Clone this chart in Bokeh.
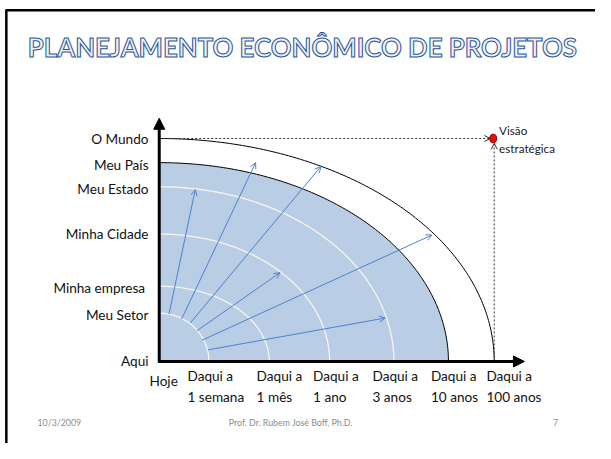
import numpy as np
from bokeh.plotting import figure
from bokeh.models import Range1d, Arrow, NormalHead, OpenHead, ColumnDataSource
from bokeh.core.properties import value
from bokeh.embed import file_html
from bokeh.resources import INLINE

# ---------------- data ----------------
title = "PLANEJAMENTO ECONÔMICO DE PROJETOS"
space_levels = ["Aqui", "Meu Setor", "Minha  empresa", "Minha Cidade", "Meu Estado", "Meu País", "O Mundo"]
space_reach = [0, 50, 78, 132, 181, 206, 231]
time_levels = ["Hoje", "Daqui a\n1 semana", "Daqui a\n1 mês", "Daqui a\n1 ano",
               "Daqui a\n3 anos", "Daqui a\n10 anos", "Daqui a\n100 anos"]
time_reach = [0, 51, 113, 175, 241, 297, 344]

arrow_x0 = [10, 23, 32, 39, 44, 50]
arrow_y0 = [49, 44, 40, 32, 22, 12]
arrow_x1 = [37, 99, 166, 124, 280, 232]
arrow_y1 = [178, 206, 202, 92, 131, 45]

vision_label = "Visão\nestratégica"
footer_date = "10/3/2009"
footer_author = "Prof. Dr. Rubem José Boff, Ph.D."
footer_page = "7"

# ---------------- layout ----------------
W, H = 595, 443
S = W / 611.0
def fs(px):
    return f"{px * S:.1f}px"

FONT = value("Lato")
p = figure(width=W, height=H, output_backend="svg", toolbar_location=None,
           x_range=Range1d(-163, 448), y_range=Range1d(-85, 374),
           x_axis_type=None, y_axis_type=None, min_border=0)
p.grid.visible = False
p.outline_line_color = None
p.background_fill_color = "white"

def quarter(a, b, n=120):
    t = np.linspace(0, np.pi / 2, n)
    return a * np.cos(t), b * np.sin(t)

# outer (O Mundo) arc
ox, oy = quarter(time_reach[6], space_reach[6])
p.line(ox, oy, line_color="black", line_width=1)

# filled region up to Meu País
fx, fy = quarter(time_reach[5], space_reach[5])
p.patch(np.concatenate([[0], fx, [0]]), np.concatenate([[0], fy, [0]]),
        fill_color="#b9cde5", line_color=None)
p.line(fx, fy, line_color="black", line_width=1)

# inner light rings
for k in range(1, 5):
    ix, iy = quarter(time_reach[k], space_reach[k])
    p.line(ix, iy, line_color="#f7f5ec", line_width=1.3)

# blue arrows
asrc = ColumnDataSource(dict(x0=arrow_x0, y0=arrow_y0, x1=arrow_x1, y1=arrow_y1))
p.add_layout(Arrow(x_start="x0", y_start="y0", x_end="x1", y_end="y1", source=asrc,
                   line_color="#4f81cf", line_width=1,
                   end=OpenHead(size=6, line_color="#4f81cf", line_width=1)))

# dashed guides to the strategic vision point
p.add_layout(Arrow(x_start=0, y_start=space_reach[6], x_end=time_reach[6] - 4, y_end=space_reach[6],
                   line_color="#333333", line_width=1, line_dash="2 2",
                   end=OpenHead(size=6, line_color="#333333", line_width=1)))
p.add_layout(Arrow(x_start=time_reach[6], y_start=0, x_end=time_reach[6], y_end=space_reach[6] - 5,
                   line_color="#333333", line_width=1, line_dash="2 2",
                   end=OpenHead(size=6, line_color="#333333", line_width=1)))
p.ellipse(x=[time_reach[6] - 1], y=[space_reach[6]], width=7, height=9,
          fill_color="#ff0000", line_color="#8b0000", line_width=1)
p.text(x=[time_reach[6] + 5], y=[space_reach[6] + 16], text=[vision_label],
       text_font=FONT, text_font_size=fs(12), text_color="#222222",
       text_align="left", text_baseline="top", text_line_height=1.3)

# main axes
p.add_layout(Arrow(x_start=0, y_start=-1, x_end=0, y_end=252, line_color="black", line_width=3,
                   end=NormalHead(size=11, fill_color="black", line_color="black")))
p.add_layout(Arrow(x_start=-1, y_start=0, x_end=375, y_end=0, line_color="black", line_width=3,
                   end=NormalHead(size=11, fill_color="black", line_color="black")))

# space labels
p.text(x=[-11] * len(space_levels), y=[v + (-2 if v not in (0, 231, 132) else 0) for v in space_reach],
       text=space_levels, text_font=FONT, text_font_size=fs(14), text_color="#111111",
       text_align="right", text_baseline="middle")

# time labels
dx = [-10, -22, -13, -17, -22, -18, -8]
tx = [r + d for r, d in zip(time_reach, dx)]
p.text(x=tx[:1], y=[-20], text=time_levels[:1], text_font=FONT, text_font_size=fs(14),
       text_color="#111111", text_align="left", text_baseline="middle")
p.text(x=tx[1:], y=[-7] * 6, text=time_levels[1:], text_font=FONT, text_font_size=fs(14),
       text_color="#111111", text_align="left", text_baseline="top", text_line_height=1.3)

# title
p.text(x=[147], y=[326], text=[title], text_font=FONT, text_font_size=fs(26.5),
       text_font_style="bold", text_color="#f3f1ea", text_outline_color="#1f55a3",
       text_align="center", text_baseline="middle")

# footer
p.text(x=[-125], y=[-63], text=[footer_date], text_font=FONT, text_font_size=fs(9),
       text_color="#8c8c8c", text_align="left", text_baseline="middle")
p.text(x=[135], y=[-63], text=[footer_author], text_font=FONT, text_font_size=fs(9),
       text_color="#8c8c8c", text_align="center", text_baseline="middle")
p.text(x=[407], y=[-63], text=[footer_page], text_font=FONT, text_font_size=fs(9),
       text_color="#8c8c8c", text_align="center", text_baseline="middle")

# slide frame
p.line([-157, -157], [-85, 364], line_color="black", line_width=2.5)
p.line([-158, 448], [364, 364], line_color="black", line_width=2.5)

open("out.html", "w").write(file_html(p, INLINE))
